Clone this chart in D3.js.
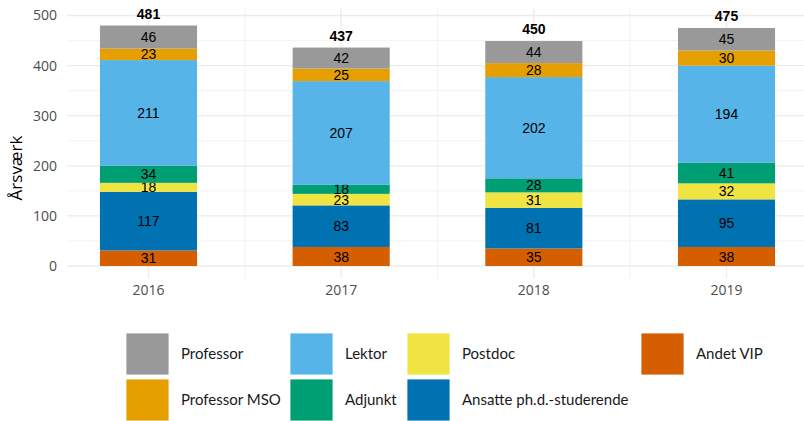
<!DOCTYPE html>
<html>
<head>
<meta charset="utf-8">
<script src="https://cdn.jsdelivr.net/npm/d3@7"></script>
<style>
  body { margin: 0; background: #fff; }
  svg { display: block; font-family: "Liberation Sans", Arial, sans-serif; }
  .legend text { font-family: Lato, "Open Sans", sans-serif; }
</style>
</head>
<body>
<svg id="chart" width="804" height="421"></svg>
<script>
// categories and values, stacked bottom to top
const years = ['2016', '2017', '2018', '2019'];
const groups = ['Andet VIP', 'Ansatte ph.d.-studerende', 'Postdoc', 'Adjunkt', 'Lektor', 'Professor MSO', 'Professor'];
const andetVip = [31, 38, 35, 38];
const phd = [117, 83, 81, 95];
const postdoc = [18, 23, 31, 32];
const adjunkt = [34, 18, 28, 41];
const lektor = [211, 207, 202, 194];
const professorMso = [23, 25, 28, 30];
const professor = [46, 42, 44, 45];
const totals = [481, 437, 450, 475];
const yTicks = [0, 100, 200, 300, 400, 500];

const colors = {
    'Professor': '#999999',
    'Professor MSO': '#E69F00',
    'Lektor': '#56B4E9',
    'Adjunkt': '#009E73',
    'Postdoc': '#F0E442',
    'Ansatte ph.d.-studerende': '#0072B2',
    'Andet VIP': '#D55E00'
};

const seriesValues = [andetVip, phd, postdoc, adjunkt, lektor, professorMso, professor];
const rows = years.map((y, i) => {
    const r = { year: y };
    groups.forEach((g, k) => { r[g] = seriesValues[k][i]; });
    return r;
});

const svg = d3.select('#chart');
const panel = { left: 67, right: 808, top: 8, bottom: 266 };

const x = d3.scaleBand()
    .domain(years)
    .range([panel.left, panel.right])
    .paddingInner(0.496)
    .paddingOuter(0.171);

const y = d3.scaleLinear()
    .domain([0, 500])
    .range([panel.bottom, 15.5]);

// grid
const grid = svg.append('g');
d3.range(50, 520, 100).forEach(v => {
    grid.append('line')
        .attr('x1', panel.left).attr('x2', panel.right)
        .attr('y1', y(v)).attr('y2', y(v))
        .attr('stroke', '#f0f0f0').attr('stroke-width', 0.8);
});
yTicks.forEach(v => {
    grid.append('line')
        .attr('x1', panel.left).attr('x2', panel.right)
        .attr('y1', y(v)).attr('y2', y(v))
        .attr('stroke', '#ebebeb').attr('stroke-width', 1.3);
});
const centers = years.map(yr => x(yr) + x.bandwidth() / 2);
centers.slice(1).forEach((c, i) => {
    const mid = (c + centers[i]) / 2;
    grid.append('line')
        .attr('x1', mid).attr('x2', mid)
        .attr('y1', panel.top).attr('y2', 278)
        .attr('stroke', '#f0f0f0').attr('stroke-width', 0.8);
});
centers.forEach(c => {
    grid.append('line')
        .attr('x1', c).attr('x2', c)
        .attr('y1', panel.top).attr('y2', 278)
        .attr('stroke', '#ebebeb').attr('stroke-width', 1.3);
});

// axes
const yAxis = svg.append('g')
    .attr('transform', `translate(${panel.left - 4},0)`)
    .call(d3.axisLeft(y).tickValues(yTicks).tickSize(0).tickPadding(6));
yAxis.select('.domain').remove();
yAxis.selectAll('text').attr('font-size', 14).attr('fill', '#4d4d4d')
    .attr('font-family', '"Open Sans", sans-serif');

const xAxis = svg.append('g')
    .attr('transform', `translate(0,${panel.bottom + 19})`)
    .call(d3.axisBottom(x).tickSize(0).tickPadding(0));
xAxis.select('.domain').remove();
xAxis.selectAll('text').attr('font-size', 14).attr('fill', '#4d4d4d')
    .attr('font-family', '"Open Sans", sans-serif');

svg.append('text')
    .attr('transform', 'translate(22,168) rotate(-90)')
    .attr('text-anchor', 'middle')
    .attr('font-size', 17)
    .attr('fill', '#000')
    .attr('font-family', '"Open Sans", sans-serif')
    .text('Årsværk');

// bars
const stacked = d3.stack().keys(groups)(rows);
const layer = svg.selectAll('.layer')
    .data(stacked)
    .join('g')
    .attr('class', 'layer')
    .attr('fill', d => colors[d.key]);

layer.selectAll('rect')
    .data(d => d)
    .join('rect')
    .attr('x', d => x(d.data.year))
    .attr('width', x.bandwidth())
    .attr('y', d => y(d[1]))
    .attr('height', d => y(d[0]) - y(d[1]));

layer.selectAll('text')
    .data(d => d)
    .join('text')
    .attr('x', d => x(d.data.year) + x.bandwidth() / 2)
    .attr('y', d => (y(d[0]) + y(d[1])) / 2)
    .attr('dy', '0.36em')
    .attr('text-anchor', 'middle')
    .attr('font-size', 14)
    .attr('fill', '#000')
    .text(d => d[1] - d[0]);

svg.selectAll('.total')
    .data(years)
    .join('text')
    .attr('class', 'total')
    .attr('x', yr => x(yr) + x.bandwidth() / 2)
    .attr('y', (yr, i) => y(d3.sum(seriesValues, s => s[i])) - 7)
    .attr('text-anchor', 'middle')
    .attr('font-size', 14)
    .attr('font-weight', 'bold')
    .attr('fill', '#000')
    .text((yr, i) => totals[i]);

// legend, 2 rows x 4 columns
const legendOrder = ['Professor', 'Lektor', 'Postdoc', 'Andet VIP',
                     'Professor MSO', 'Adjunkt', 'Ansatte ph.d.-studerende'];
const colX = [126, 290, 407, 641];
const rowY = [333, 379];
const legend = svg.append('g').attr('class', 'legend');
legendOrder.forEach((name, i) => {
    const col = i % 4;
    const row = Math.floor(i / 4);
    const g = legend.append('g').attr('transform', `translate(${colX[col]},${rowY[row]})`);
    g.append('rect')
        .attr('width', 43).attr('height', 42)
        .attr('fill', colors[name])
        .attr('stroke', '#fff').attr('stroke-width', 0.8);
    g.append('text')
        .attr('x', 55).attr('y', 21)
        .attr('dy', '0.35em')
        .attr('font-size', 15)
        .attr('fill', '#1a1a1a')
        .text(name);
});
</script>
</body>
</html>
